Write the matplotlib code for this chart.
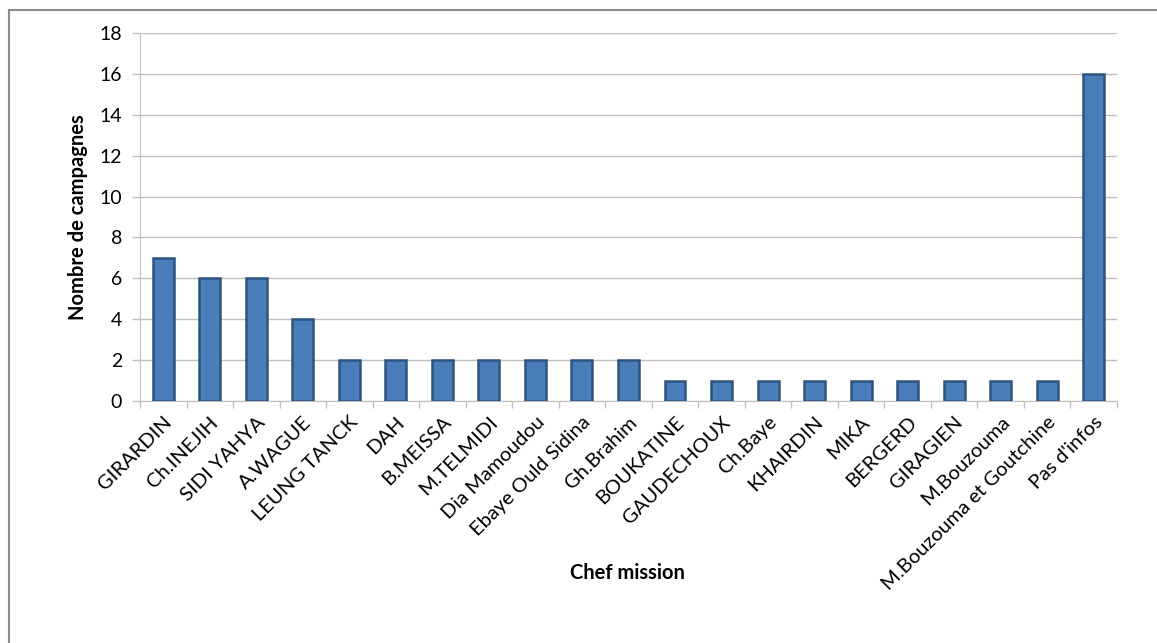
import matplotlib

matplotlib.use("Agg")
import matplotlib.pyplot as plt
from matplotlib.lines import Line2D
import numpy as np

CHEFS = [
    "GIRARDIN", "Ch.INEJIH", "SIDI YAHYA", "A.WAGUE", "LEUNG TANCK", "DAH",
    "B.MEISSA", "M.TELMIDI", "Dia Mamoudou", "Ebaye Ould Sidina", "Gh.Brahim",
    "BOUKATINE", "GAUDECHOUX", "Ch.Baye", "KHAIRDIN", "MIKA", "BERGERD",
    "GIRAGIEN", "M.Bouzouma", "M.Bouzouma et Goutchine", "Pas d'infos",
]
CAMPAGNES = [7, 6, 6, 4, 2, 2, 2, 2, 2, 2, 2, 1, 1, 1, 1, 1, 1, 1, 1, 1, 16]
Y_TICKS = list(range(0, 19, 2))

plt.rcParams["font.family"] = ["Lato", "DejaVu Sans"]

fig = plt.figure(figsize=(11.57, 6.43), dpi=100)
ax = fig.add_axes([0.121, 0.3764, 0.8444, 0.5723])

x = np.arange(len(CHEFS))
ax.bar(x, CAMPAGNES, width=0.45, color="#4a7ebb", edgecolor="#2c5581",
       linewidth=1.8, zorder=3)

ax.set_xlim(-0.5, len(CHEFS) - 0.5)
ax.set_ylim(0, 18)
ax.set_yticks(Y_TICKS)
ax.grid(axis="y", color="#bfbfbf", linewidth=1.0, zorder=0)

ax.set_xticks(x)
ax.set_xticklabels(CHEFS, rotation=45, ha="right", rotation_mode="anchor", fontsize=14.5)
ax.tick_params(axis="x", length=0, pad=9)
ax.set_xticks(np.arange(-0.5, len(CHEFS)), minor=True)
ax.tick_params(axis="x", which="minor", length=5, color="#bfbfbf", width=1)
ax.tick_params(axis="y", labelsize=14, length=6, color="#bfbfbf", width=1, pad=7)

for side in ["top", "right"]:
    ax.spines[side].set_visible(False)
ax.spines["left"].set_color("#bfbfbf")
ax.spines["bottom"].set_color("#bfbfbf")

ax.set_ylabel("Nombre de campagnes", fontsize=14.5, fontweight="bold", labelpad=8)
fig.text(0.542, 0.109, "Chef mission", fontsize=14.5, fontweight="bold", ha="center", va="center")

# Excel chart frame (only left and top edges visible in the crop)
fig.add_artist(Line2D([0.0075, 0.0075], [0.0, 0.985], color="#8c8c8c", linewidth=1.5,
                      transform=fig.transFigure))
fig.add_artist(Line2D([0.0075, 1.0], [0.985, 0.985], color="#8c8c8c", linewidth=1.5,
                      transform=fig.transFigure))

fig.savefig("out.png", dpi=100)
